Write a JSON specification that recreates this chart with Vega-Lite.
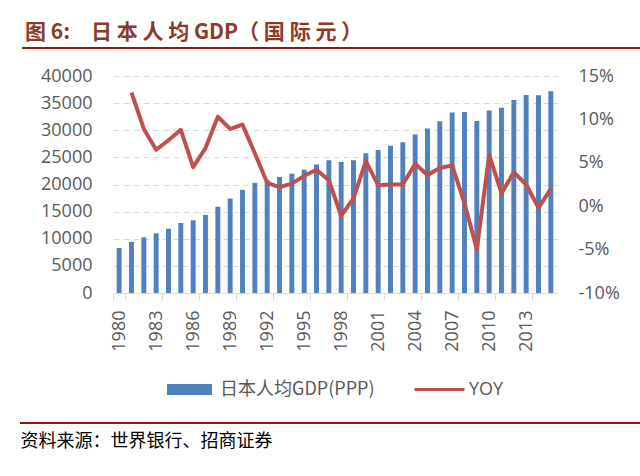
{
  "$schema": "https://vega.github.io/schema/vega-lite/v6.json",
  "width": 444,
  "height": 217,
  "autosize": {"type": "none"},
  "padding": {"left": 113, "top": 76, "right": 83, "bottom": 183},
  "background": "white",
  "title": {
    "text": "图 6:　日 本 人 均  GDP（ 国 际 元 ）",
    "anchor": "start",
    "frame": "group",
    "dx": -88,
    "offset": 4,
    "font": "Noto Sans CJK SC",
    "fontSize": 21,
    "fontWeight": "bold",
    "color": "#8B3A2A"
  },
  "config": {
    "view": {"stroke": null},
    "axis": {"labelFont": "Open Sans", "labelColor": "#595959", "labelFontSize": 18}
  },
  "data": {
    "values": [
      {"year": 1980, "gdp": 8300, "yoy": null},
      {"year": 1981, "gdp": 9400, "yoy": 13.1},
      {"year": 1982, "gdp": 10250, "yoy": 8.9},
      {"year": 1983, "gdp": 11000, "yoy": 6.5},
      {"year": 1984, "gdp": 11850, "yoy": 7.6},
      {"year": 1985, "gdp": 12900, "yoy": 8.8},
      {"year": 1986, "gdp": 13400, "yoy": 4.5},
      {"year": 1987, "gdp": 14400, "yoy": 6.7},
      {"year": 1988, "gdp": 15900, "yoy": 10.3},
      {"year": 1989, "gdp": 17400, "yoy": 8.9},
      {"year": 1990, "gdp": 19000, "yoy": 9.4},
      {"year": 1991, "gdp": 20300, "yoy": 6.1},
      {"year": 1992, "gdp": 20800, "yoy": 2.7},
      {"year": 1993, "gdp": 21400, "yoy": 2.2},
      {"year": 1994, "gdp": 22000, "yoy": 2.6},
      {"year": 1995, "gdp": 22750, "yoy": 3.5},
      {"year": 1996, "gdp": 23700, "yoy": 4.2},
      {"year": 1997, "gdp": 24480, "yoy": 3.0},
      {"year": 1998, "gdp": 24170, "yoy": -1.1},
      {"year": 1999, "gdp": 24480, "yoy": 0.9},
      {"year": 2000, "gdp": 25770, "yoy": 5.2},
      {"year": 2001, "gdp": 26380, "yoy": 2.4},
      {"year": 2002, "gdp": 27120, "yoy": 2.5},
      {"year": 2003, "gdp": 27790, "yoy": 2.5},
      {"year": 2004, "gdp": 29200, "yoy": 4.9},
      {"year": 2005, "gdp": 30300, "yoy": 3.6},
      {"year": 2006, "gdp": 31660, "yoy": 4.4},
      {"year": 2007, "gdp": 33250, "yoy": 4.7},
      {"year": 2008, "gdp": 33370, "yoy": 0.35},
      {"year": 2009, "gdp": 31720, "yoy": -5.0},
      {"year": 2010, "gdp": 33620, "yoy": 5.9},
      {"year": 2011, "gdp": 34170, "yoy": 1.5},
      {"year": 2012, "gdp": 35580, "yoy": 3.9},
      {"year": 2013, "gdp": 36500, "yoy": 2.5},
      {"year": 2014, "gdp": 36440, "yoy": -0.2},
      {"year": 2015, "gdp": 37180, "yoy": 2.0}
    ]
  },
  "encoding": {
    "x": {
      "field": "year",
      "type": "ordinal",
      "scale": {"paddingInner": 0, "paddingOuter": 0},
      "axis": {
        "values": [1980, 1983, 1986, 1989, 1992, 1995, 1998, 2001, 2004, 2007, 2010, 2013],
        "labelAngle": -90,
        "labelAlign": "right",
        "labelBaseline": "middle",
        "tickBand": "extent",
        "domainColor": "#D9D9D9",
        "tickColor": "#D9D9D9",
        "tickSize": 7,
        "labelPadding": 10,
        "title": "资料来源：世界银行、招商证券",
        "titleFont": "Noto Sans CJK SC",
        "titleFontSize": 18,
        "titleFontWeight": "normal",
        "titleColor": "#000000",
        "titleAnchor": "start",
        "titleAlign": "left",
        "titleBaseline": "alphabetic",
        "titleX": -93,
        "titleY": 153
      }
    }
  },
  "layer": [
    {
      "mark": {"type": "bar", "width": {"band": 0.4}},
      "encoding": {
        "y": {
          "field": "gdp",
          "type": "quantitative",
          "scale": {"domain": [0, 40000], "nice": false},
          "axis": {
            "values": [0, 5000, 10000, 15000, 20000, 25000, 30000, 35000, 40000],
            "format": "d",
            "title": null,
            "domain": false,
            "ticks": false,
            "labelPadding": 21,
            "grid": true,
            "gridColor": "#D9D9D9",
            "gridDash": [6, 4],
            "gridWidth": 1
          }
        },
        "color": {
          "datum": "日本人均GDP(PPP)",
          "scale": {"range": ["#4F81BD"]},
          "legend": {
            "orient": "none",
            "legendX": 54,
            "legendY": 291,
            "title": null,
            "symbolType": "M-1,-0.24H1V0.24H-1Z",
            "symbolSize": 2025,
            "symbolStrokeWidth": 0,
            "labelFont": "Noto Sans CJK SC",
            "labelFontSize": 18,
            "labelColor": "#595959",
            "labelOffset": 8
          }
        }
      }
    },
    {
      "mark": {"type": "line", "strokeWidth": 4, "strokeJoin": "round"},
      "encoding": {
        "y": {
          "field": "yoy",
          "type": "quantitative",
          "scale": {"domain": [-10, 15], "nice": false},
          "axis": {
            "orient": "right",
            "values": [-10, -5, 0, 5, 10, 15],
            "labelExpr": "datum.value + '%'",
            "title": null,
            "domain": false,
            "ticks": false,
            "grid": false,
            "labelPadding": 21
          }
        },
        "stroke": {
          "datum": "YOY",
          "scale": {"range": ["#C0504D"]},
          "legend": {
            "orient": "none",
            "legendX": 300,
            "legendY": 287,
            "title": null,
            "symbolType": "stroke",
            "symbolSize": 2500,
            "symbolStrokeWidth": 3,
            "labelFont": "Open Sans",
            "labelFontSize": 18,
            "labelColor": "#595959",
            "labelOffset": 3
          }
        }
      }
    },
    {
      "data": {"values": [{"line": "top"}]},
      "mark": {"type": "rule", "color": "#8B1A1A", "strokeWidth": 2},
      "encoding": {
        "x": {"value": -91},
        "x2": {"value": 527},
        "y": {"value": -28}
      }
    },
    {
      "data": {"values": [{"line": "bottom"}]},
      "mark": {"type": "rule", "color": "#8B1A1A", "strokeWidth": 2},
      "encoding": {
        "x": {"value": -93},
        "x2": {"value": 527},
        "y": {"value": 347}
      }
    }
  ],
  "resolve": {"scale": {"y": "independent", "color": "independent"}}
}
